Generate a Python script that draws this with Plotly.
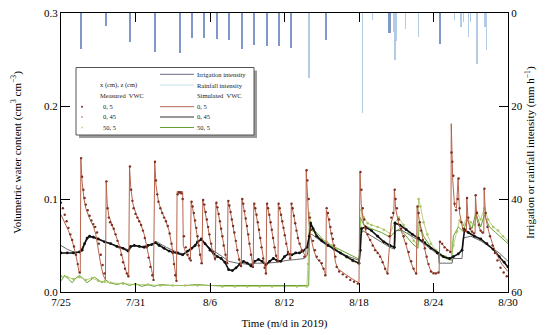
import plotly.graph_objects as go

# ---------------- data (day offset from 7/25 00:00, value) ----------------
tick_days = [0, 6, 12, 18, 24, 30, 36]
tick_labels = ["7/25", "7/31", "8/6", "8/12", "8/18", "8/24", "8/30"]

irr_day = [1.59, 3.62, 5.53, 7.59, 9.58, 10.55, 11.51, 12.54, 13.50, 14.57, 15.54, 16.61, 17.53, 18.54, 21.36, 26.46, 30.54]
irr_mmh = [7.8, 2.8, 6.2, 8.3, 8.7, 5.4, 5.3, 5.6, 5.8, 7.7, 6.9, 7.2, 7.1, 7.5, 5.7, 4.4, 6.7]

rain_day = [19.97, 24.3, 25.07, 26.8, 26.9, 27.0, 27.75, 28.8, 31.7, 32.2, 32.4, 32.8, 33.0, 33.5, 34.15, 34.25]
rain_mmh = [14.0, 21.5, 1.5, 4.0, 10.0, 6.0, 3.5, 5.1, 1.5, 3.0, 2.0, 5.1, 2.0, 11.0, 3.0, 8.0]

meas_0_5 = [
    (0.0, .096), (.15, .090), (.3, .083), (.45, .076), (.6, .069), (.75, .062), (.9, .056), (1.05, .049), (1.2, .040), (1.35, .030), (1.5, .021),
    (1.62, .144), (1.7, .124), (1.8, .110), (1.9, .101), (2.0, .094), (2.15, .088), (2.3, .082), (2.45, .077), (2.6, .073), (2.75, .070), (2.9, .064), (3.05, .052), (3.2, .040), (3.35, .029), (3.5, .020),
    (3.66, .119), (3.75, .090), (3.85, .080), (3.95, .075), (4.1, .072), (4.25, .068), (4.4, .062), (4.55, .055), (4.7, .048), (4.85, .040), (5.0, .032), (5.15, .025), (5.3, .020), (5.42, .017),
    (5.55, .135), (5.65, .110), (5.75, .098), (5.85, .090), (6.0, .084), (6.15, .080), (6.3, .076), (6.45, .072), (6.6, .066), (6.75, .058), (6.9, .048), (7.05, .037), (7.2, .027), (7.35, .018), (7.45, .013),
    (7.57, .140), (7.65, .120), (7.75, .105), (7.85, .097), (8.0, .090), (8.15, .085), (8.3, .080), (8.45, .076), (8.6, .071), (8.75, .063), (8.9, .052), (9.0, .042), (9.1, .030), (9.2, .018), (9.3, .012),
    (9.4, .105), (9.5, .107), (9.6, .107), (9.7, .106), (9.8, .100), (9.9, .060), (10.05, .048), (10.2, .040), (10.35, .036), (10.45, .034),
    (10.52, .097), (10.6, .092), (10.7, .085), (10.8, .077), (10.9, .069), (11.0, .060), (11.1, .050), (11.2, .040), (11.32, .031),
    (11.45, .099), (11.55, .094), (11.65, .086), (11.75, .078), (11.85, .070), (11.95, .062), (12.1, .052), (12.25, .043), (12.4, .036),
    (12.52, .096), (12.6, .091), (12.7, .084), (12.8, .076), (12.9, .068), (13.0, .060), (13.1, .050), (13.25, .040), (13.38, .031),
    (13.48, .098), (13.56, .093), (13.66, .086), (13.76, .078), (13.86, .071), (13.96, .064), (14.08, .055), (14.2, .045), (14.35, .035), (14.5, .028),
    (14.6, .100), (14.68, .095), (14.78, .087), (14.88, .079), (14.98, .071), (15.08, .062), (15.18, .052), (15.3, .040), (15.45, .027),
    (15.57, .095), (15.65, .090), (15.75, .083), (15.85, .075), (15.95, .067), (16.05, .058), (16.15, .048), (16.28, .036), (16.4, .026), (16.5, .020),
    (16.6, .095), (16.68, .090), (16.78, .083), (16.88, .075), (16.98, .067), (17.08, .058), (17.2, .048), (17.32, .039), (17.45, .033),
    (17.53, .095), (17.62, .090), (17.72, .083), (17.82, .076), (17.92, .069), (18.02, .061), (18.14, .052), (18.28, .043), (18.45, .036),
    (18.57, .095), (18.66, .090), (18.76, .082), (18.86, .074), (18.96, .066), (19.08, .058), (19.22, .052), (19.4, .045), (19.6, .038),
    (19.78, .131), (19.85, .120), (19.95, .100), (20.05, .080), (20.15, .067), (20.3, .055), (20.45, .045), (20.6, .038), (20.8, .034), (21.0, .031), (21.15, .025), (21.28, .018),
    (21.4, .090), (21.5, .085), (21.6, .078), (21.7, .070), (21.8, .063), (21.9, .057), (22.0, .050), (22.1, .038), (22.2, .027), (22.4, .022), (22.7, .019), (23.0, .016), (23.3, .013), (23.6, .011), (23.9, .009),
    (24.12, .129), (24.2, .110), (24.3, .090), (24.42, .078), (24.55, .068), (24.7, .062), (24.9, .056), (25.1, .050), (25.3, .045), (25.5, .042), (25.7, .038), (25.9, .032), (26.1, .025), (26.3, .020),
    (26.45, .060), (26.6, .080), (26.75, .085), (26.88, .110), (26.95, .100), (27.05, .090), (27.2, .078), (27.4, .068), (27.6, .060), (27.8, .052), (28.0, .043), (28.2, .033), (28.4, .025), (28.6, .020),
    (28.72, .092), (28.8, .085), (28.9, .075), (29.0, .066), (29.15, .056), (29.3, .047), (29.45, .038), (29.6, .030), (29.8, .022), (30.0, .020), (30.2, .020), (30.4, .021),
    (30.52, .054), (30.7, .052), (30.9, .048), (31.1, .045), (31.35, .043),
    (31.45, .150), (31.52, .140), (31.6, .125), (31.7, .095), (31.82, .088), (31.95, .100), (32.02, .122), (32.1, .090), (32.25, .075), (32.4, .068), (32.55, .066),
    (32.7, .101), (32.8, .080), (32.95, .068), (33.1, .065), (33.25, .063), (33.4, .104), (33.5, .085), (33.65, .072), (33.8, .066), (33.95, .064),
    (34.1, .111), (34.2, .085), (34.35, .070), (34.55, .060), (34.75, .050), (34.95, .042), (35.15, .034), (35.4, .026), (35.65, .021), (35.9, .017),
]

sim_0_5 = [
    (0.0, .083), (.3, .075), (.6, .066), (.9, .055), (1.2, .040), (1.45, .022), (1.55, .020),
    (1.6, .144), (1.7, .118), (1.85, .100), (2.0, .090), (2.3, .079), (2.6, .071), (2.8, .062), (3.0, .045), (3.2, .030), (3.4, .018), (3.58, .013),
    (3.64, .119), (3.72, .095), (3.85, .082), (4.1, .073), (4.4, .063), (4.7, .050), (5.0, .034), (5.25, .022), (5.45, .016),
    (5.52, .135), (5.62, .112), (5.8, .094), (6.1, .082), (6.4, .074), (6.7, .062), (7.0, .043), (7.25, .025), (7.45, .014),
    (7.55, .140), (7.65, .115), (7.85, .097), (8.1, .087), (8.4, .078), (8.7, .066), (8.95, .048), (9.15, .025), (9.3, .011),
    (9.35, .108), (9.8, .108), (9.85, .050), (10.1, .040), (10.42, .036),
    (10.48, .097), (10.6, .090), (10.8, .075), (11.0, .058), (11.2, .040), (11.35, .030),
    (11.42, .099), (11.6, .088), (11.8, .072), (12.0, .057), (12.2, .044), (12.42, .034),
    (12.48, .096), (12.65, .086), (12.85, .070), (13.05, .055), (13.25, .040), (13.4, .031),
    (13.45, .098), (13.62, .088), (13.82, .073), (14.02, .059), (14.25, .041), (14.52, .027),
    (14.57, .100), (14.75, .088), (14.95, .071), (15.15, .054), (15.3, .040), (15.48, .026),
    (15.53, .095), (15.7, .085), (15.9, .069), (16.1, .052), (16.3, .033), (16.52, .019),
    (16.57, .095), (16.75, .084), (16.95, .068), (17.15, .052), (17.3, .040), (17.48, .033),
    (17.5, .095), (17.7, .084), (17.9, .069), (18.1, .054), (18.3, .042), (18.5, .036),
    (18.55, .095), (18.75, .082), (18.95, .066), (19.15, .054), (19.4, .045), (19.72, .038),
    (19.75, .131), (19.85, .105), (19.95, .078), (20.1, .060), (20.35, .045), (20.6, .036), (20.9, .032), (21.1, .026), (21.33, .018),
    (21.37, .088), (21.55, .078), (21.75, .063), (21.95, .050), (22.1, .032), (22.3, .025), (22.8, .020), (23.3, .015), (23.7, .012), (24.0, .010),
    (24.08, .129), (24.18, .095), (24.35, .075), (24.6, .063), (24.9, .055), (25.3, .046), (25.7, .039), (26.0, .028), (26.3, .019),
    (26.4, .040), (26.6, .075), (26.8, .084), (26.85, .110), (26.95, .090), (27.2, .073), (27.5, .062), (27.8, .050), (28.1, .035), (28.4, .024), (28.62, .019),
    (28.68, .092), (28.85, .078), (29.05, .063), (29.3, .046), (29.55, .031), (29.8, .022), (30.2, .020), (30.45, .021),
    (30.5, .054), (31.0, .047), (31.4, .043),
    (31.43, .181), (31.55, .120), (31.7, .092), (31.85, .090), (31.98, .122), (32.1, .085), (32.35, .068), (32.65, .064),
    (32.68, .101), (32.8, .075), (33.05, .065), (33.35, .063), (33.38, .104), (33.5, .078), (33.8, .065), (34.05, .063),
    (34.08, .111), (34.2, .080), (34.45, .065), (34.75, .052), (35.1, .040), (35.5, .030), (36.0, .022),
]

meas_0_45 = [
    (0.0, .042), (0.5, .042), (1.0, .042), (1.5, .043), (1.7, .045), (1.9, .052), (2.1, .058), (2.3, .060), (2.6, .059), (3.0, .057), (3.5, .054),
    (4.0, .052), (4.5, .049), (5.0, .047), (5.4, .044), (5.6, .049), (5.9, .050), (6.3, .049), (6.7, .048), (7.0, .050), (7.3, .051), (7.6, .053),
    (7.9, .050), (8.3, .047), (8.7, .044), (9.0, .043), (9.4, .042), (9.8, .040), (10.2, .044), (10.5, .047), (10.8, .050), (11.0, .054), (11.3, .057),
    (11.6, .052), (12.0, .045), (12.3, .041), (12.6, .038), (12.9, .036), (13.2, .032), (13.5, .024), (13.8, .023), (14.1, .026), (14.4, .030),
    (14.7, .033), (15.0, .031), (15.3, .028), (15.6, .033), (15.9, .035), (16.2, .033), (16.5, .029), (16.8, .033), (17.1, .036), (17.4, .034),
    (17.7, .033), (18.0, .038), (18.3, .041), (18.6, .040), (18.9, .042), (19.2, .042), (19.5, .044), (19.8, .048), (20.0, .060), (20.1, .074),
    (20.3, .068), (20.6, .060), (21.0, .055), (21.5, .050), (22.0, .046), (22.5, .042), (23.0, .038), (23.5, .034), (24.0, .031), (24.1, .045),
    (24.2, .068), (24.5, .070), (25.0, .066), (25.5, .060), (26.0, .054), (26.5, .050), (26.85, .048), (26.9, .074), (27.3, .072), (27.8, .067),
    (28.3, .062), (28.8, .058), (29.3, .053), (29.8, .047), (30.3, .042), (30.8, .038), (31.3, .036), (31.6, .038), (32.0, .041), (32.3, .045),
    (32.5, .067), (32.8, .064), (33.3, .060), (33.8, .057), (34.3, .052), (34.8, .046), (35.3, .038), (35.7, .032), (36.0, .027),
]

sim_0_45 = [
    (0.0, .050), (0.5, .046), (1.0, .043), (1.5, .043), (1.8, .050), (2.2, .058), (2.6, .060), (3.2, .056), (4.0, .052), (5.0, .047), (5.5, .045),
    (5.8, .050), (6.5, .049), (7.3, .051), (7.7, .054), (8.5, .048), (9.3, .043), (9.8, .041), (10.5, .045), (11.0, .052), (11.3, .056), (11.6, .052),
    (12.2, .045), (13.0, .038), (13.5, .033), (14.2, .031), (15.0, .030), (15.8, .031), (16.6, .031), (17.4, .032), (18.2, .034), (19.0, .035),
    (19.6, .036), (19.85, .040), (20.0, .060), (20.2, .062), (20.6, .058), (21.2, .052), (22.0, .046), (23.0, .039), (24.0, .034), (24.1, .060),
    (24.3, .066), (25.0, .060), (25.8, .054), (26.5, .048), (26.85, .046), (26.95, .066), (27.5, .066), (28.2, .060), (29.0, .054), (29.8, .046),
    (30.4, .040), (30.45, .031), (31.5, .031), (31.55, .036), (32.3, .036), (32.4, .058), (33.0, .060), (33.8, .055), (34.6, .048), (35.3, .042),
    (36.0, .033),
]

meas_50_5 = [
    (0.0, .017), (0.5, .016), (1.0, .014), (1.5, .016), (2.0, .013), (2.5, .015), (3.0, .012), (3.5, .011), (4.0, .010), (5.0, .009), (6.0, .008),
    (7.0, .008), (8.0, .007), (9.0, .007), (10.0, .007), (11.0, .007), (12.0, .007), (13.0, .006), (14.0, .006), (15.0, .006), (16.0, .006),
    (17.0, .006), (18.0, .006), (19.0, .006), (19.8, .006), (19.9, .030), (20.0, .085), (20.1, .075), (20.3, .066), (20.6, .060), (21.0, .057),
    (21.4, .054), (21.8, .050), (22.2, .046), (22.6, .041), (23.0, .037), (23.5, .033), (24.0, .030), (24.1, .070), (24.2, .088), (24.4, .080),
    (24.7, .074), (25.0, .072), (25.5, .070), (26.0, .067), (26.5, .063), (26.9, .075), (27.2, .080), (27.6, .072), (28.0, .064), (28.4, .055),
    (28.7, .050), (28.8, .100), (28.95, .092), (29.2, .075), (29.5, .062), (29.8, .052), (30.2, .045), (30.6, .040), (31.0, .038), (31.4, .036),
    (31.6, .050), (31.9, .065), (32.1, .077), (32.4, .072), (32.7, .080), (33.0, .075), (33.3, .072), (33.5, .086), (33.8, .078), (34.1, .090),
    (34.4, .078), (34.8, .070), (35.2, .066), (35.6, .060), (36.0, .055),
]

sim_50_5 = [
    (0.0, .012), (0.3, .018), (0.6, .014), (0.9, .010), (1.2, .015), (1.5, .018), (1.8, .014), (2.1, .010), (2.4, .013), (2.7, .016), (3.0, .013),
    (3.3, .010), (3.6, .013), (3.9, .010), (4.5, .008), (5.0, .010), (5.5, .007), (6.0, .009), (6.5, .006), (7.0, .008), (7.5, .006), (8.0, .008),
    (9.0, .007), (10.0, .007), (11.0, .008), (12.0, .007), (13.0, .007), (14.0, .007), (15.0, .007), (16.0, .007), (17.0, .007), (18.0, .007),
    (19.0, .007), (19.95, .007), (20.0, .048), (20.05, .065), (20.3, .068), (20.7, .062), (21.2, .055), (21.8, .050), (22.4, .046), (23.0, .042),
    (23.6, .038), (24.05, .035), (24.1, .080), (24.4, .072), (25.0, .068), (25.8, .064), (26.5, .059), (26.9, .065), (27.3, .068), (27.8, .060),
    (28.3, .052), (28.75, .047), (28.85, .075), (29.2, .060), (29.8, .048), (30.4, .040), (31.0, .036), (31.45, .034), (31.6, .060), (32.0, .070),
    (32.4, .065), (32.7, .078), (33.1, .068), (33.4, .085), (33.8, .070), (34.1, .083), (34.5, .070), (35.0, .064), (35.5, .058), (36.0, .052),
]


def xs(pairs):
    return [p[0] for p in pairs]


def ys(pairs):
    return [p[1] for p in pairs]


FONT = "Liberation Serif"
C_IRR = "#7f98c8"
C_RAIN = "#b3cbe4"
C_M05 = "#7c2f22"
C_S05 = "#b8644c"
C_M045 = "#111111"
C_S045 = "#6a6a6a"
C_M505 = "#a9c463"
C_S505 = "#62a030"

fig = go.Figure()

fig.add_trace(go.Bar(x=irr_day, y=irr_mmh, yaxis="y2", width=0.17, marker=dict(color=C_IRR, line=dict(width=0)), showlegend=False))
fig.add_trace(go.Bar(x=rain_day, y=rain_mmh, yaxis="y2", width=0.12, marker=dict(color=C_RAIN, line=dict(width=0)), showlegend=False))

fig.add_trace(go.Scatter(x=xs(sim_50_5), y=ys(sim_50_5), mode="lines", line=dict(color=C_S505, width=1), showlegend=False))
fig.add_trace(go.Scatter(x=xs(meas_50_5), y=ys(meas_50_5), mode="lines+markers", line=dict(color=C_M505, width=0.8),
                         marker=dict(color=C_M505, size=2.5), showlegend=False))
fig.add_trace(go.Scatter(x=xs(sim_0_45), y=ys(sim_0_45), mode="lines", line=dict(color=C_S045, width=1), showlegend=False))
fig.add_trace(go.Scatter(x=xs(meas_0_45), y=ys(meas_0_45), mode="lines+markers", line=dict(color=C_M045, width=1.6),
                         marker=dict(color=C_M045, size=2.8), showlegend=False))
fig.add_trace(go.Scatter(x=xs(sim_0_5), y=ys(sim_0_5), mode="lines", line=dict(color=C_S05, width=1), showlegend=False))
fig.add_trace(go.Scatter(x=xs(meas_0_5), y=ys(meas_0_5), mode="markers",
                         marker=dict(color=C_M05, size=2.4), showlegend=False))

# ---------------- layout geometry ----------------
W, H = 550, 335
PL, PR, PT, PB = 61, 508, 13, 292  # plot area in page pixels


def px(x):
    return (x - PL) / (PR - PL)


def py(y):
    return (PB - y) / (PB - PT)


shapes = []
annotations = []
shapes.append(dict(type="rect", xref="paper", yref="paper", x0=px(79), x1=px(257), y0=py(138), y1=py(70.5),
                   fillcolor="#9a9a9a", line=dict(width=0), layer="above"))
shapes.append(dict(type="rect", xref="paper", yref="paper", x0=px(76), x1=px(254), y0=py(135), y1=py(67.5),
                   fillcolor="white", line=dict(color="#555555", width=1), layer="above"))

fs = 6.5
line_rows = [(74.3, "#6b6886", "Irrigation intensity"), (85.0, "#c4e2ea", "Rainfall intensity"), (95.7, None, "Simulated  VWC"),
             (106.7, C_S05, "0, 5"), (117.0, "#333333", "0, 45"), (127.5, C_S505, "50, 5")]
for yy, col, txt in line_rows:
    if col:
        shapes.append(dict(type="line", xref="paper", yref="paper", x0=px(160), x1=px(194), y0=py(yy), y1=py(yy),
                           line=dict(color=col, width=1), layer="above"))
    annotations.append(dict(xref="paper", yref="paper", x=px(195), y=py(yy), text=txt, showarrow=False,
                            xanchor="left", yanchor="middle", font=dict(family=FONT, size=fs, color="#222")))

left_rows = [(85.0, "x (cm), z (cm)", 98, None), (95.7, "Measured  VWC", 98, None),
             (106.7, "0, 5", 101, C_M05), (117.0, "0, 45", 101, "#c89a90"), (127.5, "50, 5", 101, "#c8dca0")]
for yy, txt, xx, mc in left_rows:
    annotations.append(dict(xref="paper", yref="paper", x=px(xx), y=py(yy), text=txt, showarrow=False,
                            xanchor="left", yanchor="middle", font=dict(family=FONT, size=fs, color="#222")))
    if mc:
        shapes.append(dict(type="circle", xref="paper", yref="paper", x0=px(81), x1=px(83), y0=py(yy + 1), y1=py(yy - 1),
                           fillcolor=mc, line=dict(width=0), layer="above"))

fig.update_layout(
    width=W, height=H,
    margin=dict(l=PL, r=W - PR, t=PT, b=H - PB, pad=0),
    paper_bgcolor="white", plot_bgcolor="white",
    font=dict(family=FONT, size=11, color="black"),
    barmode="overlay", bargap=0,
    showlegend=False,
    shapes=shapes, annotations=annotations,
    xaxis=dict(range=[0, 36], tickvals=tick_days, ticktext=tick_labels, ticks="inside", ticklen=9, tickcolor="black",
               showline=True, linecolor="black", linewidth=1, mirror="ticks", showgrid=False, zeroline=False,
               title=dict(text="Time (m/d in 2019)", standoff=12, font=dict(size=11)), automargin=False,
               tickfont=dict(size=11)),
    yaxis=dict(range=[0, 0.3], tickvals=[0, 0.1, 0.2, 0.3], ticktext=["0.0", "0.1", "0.2", "0.3"], ticks="inside",
               ticklen=9, tickcolor="black", showline=True, linecolor="black", linewidth=1, showgrid=False, zeroline=False,
               title=dict(text="Volumetric water content (cm<sup>3</sup> cm<sup>−3</sup>)", standoff=20, font=dict(size=11)),
               automargin=False, tickfont=dict(size=11)),
    yaxis2=dict(range=[60, 0], overlaying="y", side="right", tickvals=[0, 20, 40, 60], ticks="inside", ticklen=9,
                tickcolor="black", showline=True, linecolor="black", linewidth=1, showgrid=False, zeroline=False,
                title=dict(text="Irrigation or rainfall intensity (mm h<sup>−1</sup>)", standoff=4, font=dict(size=11)),
                automargin=False, tickfont=dict(size=11)),
)

fig.write_html("out.html", config={"displayModeBar": False, "staticPlot": True},
               post_script="document.body.style.margin='0px';")
